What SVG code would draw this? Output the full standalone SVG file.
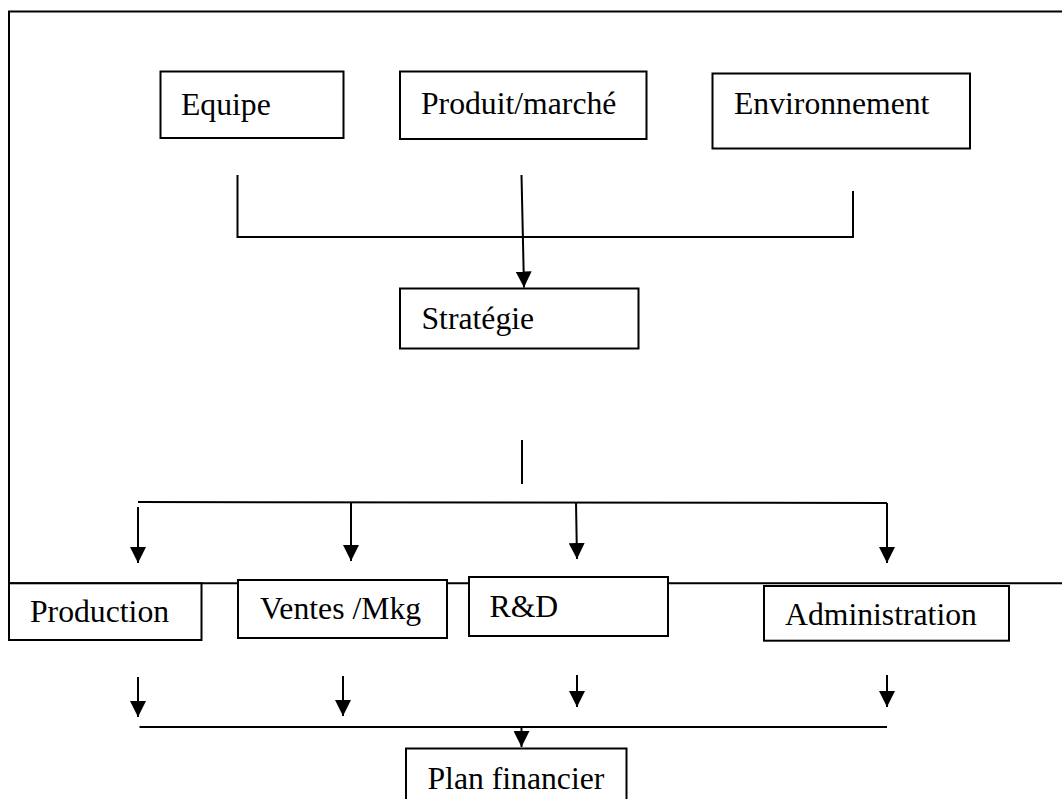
<svg xmlns="http://www.w3.org/2000/svg" width="1062" height="799" viewBox="0 0 1062 799">
<defs>
<style>
.box{fill:#fff;stroke:#000;stroke-width:2}
.ln{fill:none;stroke:#000;stroke-width:2}
.t{font-family:"Liberation Serif","Times New Roman",serif;font-size:31.7px;fill:#000}
</style>
<marker id="ah" markerUnits="userSpaceOnUse" markerWidth="16" markerHeight="16" viewBox="0 0 16 16" refX="16" refY="8" orient="auto">
<path d="M0,0 L16,8 L0,16 Z" fill="#000"/>
</marker>
</defs>
<rect width="1062" height="799" fill="#fff"/>
<g id="frame">
<path class="ln" d="M1062,11.5 H9 V583.3 H1062"/>
</g>
<g id="connectors">
<path class="ln" d="M237.5,175 V237 H853 V191"/>
<line class="ln" x1="521.5" y1="175" x2="524" y2="287.5" marker-end="url(#ah)"/>
<line class="ln" x1="522" y1="440" x2="522" y2="484"/>
<line class="ln" x1="138" y1="502" x2="887" y2="503"/>
<line class="ln" x1="138" y1="507" x2="138" y2="563" marker-end="url(#ah)"/>
<line class="ln" x1="351" y1="502" x2="351" y2="561" marker-end="url(#ah)"/>
<line class="ln" x1="576" y1="502" x2="577" y2="559" marker-end="url(#ah)"/>
<line class="ln" x1="887" y1="503" x2="887" y2="563" marker-end="url(#ah)"/>
<line class="ln" x1="138" y1="677" x2="138" y2="717" marker-end="url(#ah)"/>
<line class="ln" x1="343" y1="676" x2="343" y2="716" marker-end="url(#ah)"/>
<line class="ln" x1="577" y1="675" x2="577" y2="707" marker-end="url(#ah)"/>
<line class="ln" x1="887" y1="675" x2="887" y2="707" marker-end="url(#ah)"/>
<line class="ln" x1="139.5" y1="727" x2="887" y2="727"/>
<line class="ln" x1="521.5" y1="727" x2="521.5" y2="747" marker-end="url(#ah)"/>
</g>
<g id="equipe"><rect class="box" x="160.5" y="71.5" width="183" height="66.5"/><text class="t" x="181" y="115">Equipe</text></g>
<g id="produit"><rect class="box" x="400" y="71.5" width="246.5" height="67.5"/><text class="t" x="421" y="113.5">Produit/marché</text></g>
<g id="environnement"><rect class="box" x="712.5" y="73.5" width="257.5" height="75"/><text class="t" x="734" y="114">Environnement</text></g>
<g id="strategie"><rect class="box" x="400" y="288.5" width="238.5" height="60"/><text class="t" x="421.5" y="329">Stratégie</text></g>
<g id="production"><rect class="box" x="9" y="583.3" width="192.5" height="56.7"/><text class="t" x="30" y="622">Production</text></g>
<g id="ventes"><rect class="box" x="238" y="580" width="209" height="58"/><text class="t" x="260" y="619">Ventes /Mkg</text></g>
<g id="rd"><rect class="box" x="469" y="577" width="199" height="59"/><text class="t" x="489.5" y="617">R&amp;D</text></g>
<g id="administration"><rect class="box" x="764" y="586" width="245" height="54.7"/><text class="t" x="785" y="625">Administration</text></g>
<g id="plan"><rect class="box" x="406" y="748.5" width="220.5" height="60"/><text class="t" x="427.5" y="788.5">Plan financier</text></g>
</svg>
